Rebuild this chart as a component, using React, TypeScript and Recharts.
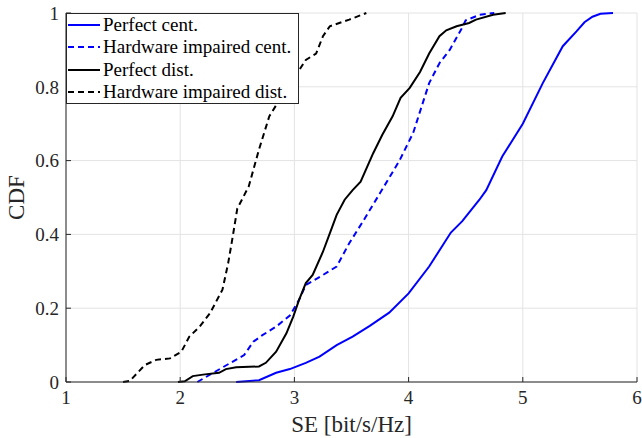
import React from 'react';
import { LineChart, Line, XAxis, YAxis, CartesianGrid } from 'recharts';

// SE values [bit/s/Hz] and CDF values
const perfectCentX = [2.49, 2.69, 2.84, 2.96, 3.10, 3.22, 3.37, 3.51, 3.66, 3.83, 4.00, 4.18, 4.37, 4.47, 4.62, 4.68, 4.82, 5.00, 5.175, 5.35, 5.47, 5.54, 5.61, 5.68, 5.79];
const perfectCentY = [0, 0.005, 0.025, 0.035, 0.052, 0.069, 0.10, 0.123, 0.152, 0.188, 0.24, 0.313, 0.405, 0.436, 0.494, 0.52, 0.611, 0.70, 0.81, 0.91, 0.95, 0.975, 0.99, 0.998, 1.0];

const hwCentX = [2.15, 2.29, 2.43, 2.56, 2.64, 2.72, 2.84, 2.96, 3.04, 3.10, 3.25, 3.37, 3.48, 3.60, 3.75, 3.92, 4.04, 4.18, 4.27, 4.36, 4.46, 4.50, 4.62, 4.75];
const hwCentY = [0, 0.025, 0.05, 0.073, 0.109, 0.127, 0.15, 0.18, 0.222, 0.263, 0.29, 0.313, 0.376, 0.435, 0.512, 0.60, 0.675, 0.81, 0.864, 0.90, 0.955, 0.98, 0.995, 1.0];

const perfectDistX = [1.98, 2.04, 2.11, 2.20, 2.34, 2.40, 2.49, 2.69, 2.75, 2.84, 2.93, 2.99, 3.04, 3.10, 3.16, 3.25, 3.31, 3.37, 3.44, 3.51, 3.58, 3.69, 3.77, 3.86, 3.93, 4.01, 4.10, 4.18, 4.27, 4.33, 4.42, 4.53, 4.59, 4.74, 4.85];
const perfectDistY = [0, 0.002, 0.016, 0.02, 0.025, 0.035, 0.04, 0.042, 0.052, 0.082, 0.132, 0.177, 0.222, 0.268, 0.29, 0.353, 0.403, 0.453, 0.494, 0.52, 0.543, 0.62, 0.67, 0.72, 0.77, 0.797, 0.84, 0.89, 0.937, 0.953, 0.964, 0.973, 0.982, 0.995, 1.0];

const hwDistX = [1.50, 1.56, 1.69, 1.79, 1.91, 2.01, 2.08, 2.17, 2.26, 2.37, 2.42, 2.46, 2.50, 2.55, 2.60, 2.69, 2.78, 2.87, 2.99, 3.10, 3.19, 3.25, 3.31, 3.48, 3.63];
const hwDistY = [0, 0.003, 0.046, 0.06, 0.064, 0.082, 0.123, 0.15, 0.186, 0.25, 0.322, 0.394, 0.47, 0.50, 0.53, 0.63, 0.72, 0.765, 0.82, 0.873, 0.89, 0.937, 0.964, 0.982, 1.0];

const xTicks = [1, 2, 3, 4, 5, 6];
const yTicks = [0, 0.2, 0.4, 0.6, 0.8, 1];

const seriesNames = ['Perfect cent.', 'Hardware impaired cent.', 'Perfect dist.', 'Hardware impaired dist.'];
const seriesColors = ['#0000ff', '#0000ff', '#000000', '#000000'];
const seriesDashed = [false, true, false, true];

const toPoints = (xs: number[], ys: number[]) => xs.map((x, i) => ({ x, y: ys[i] }));
const seriesData = [
  toPoints(perfectCentX, perfectCentY),
  toPoints(hwCentX, hwCentY),
  toPoints(perfectDistX, perfectDistY),
  toPoints(hwDistX, hwDistY),
];

const FONT = '"Liberation Serif", "Times New Roman", serif';
const TEXT = '#262626';
const AXIS = '#262626';

const LegendBox = () => (
  <div
    style={{
      position: 'absolute',
      left: 66,
      top: 13,
      width: 233,
      height: 91,
      border: `1px solid ${AXIS}`,
      background: '#fff',
      fontFamily: FONT,
      fontSize: 19,
      color: '#000',
      boxSizing: 'border-box',
      paddingTop: 0,
    }}
  >
    {seriesNames.map((name, i) => (
      <div key={name} style={{ height: 22.3, display: 'flex', alignItems: 'center', whiteSpace: 'nowrap' }}>
        <svg width={36} height={10} style={{ flex: '0 0 auto' }}>
          <line
            x1={1}
            y1={5}
            x2={33}
            y2={5}
            stroke={seriesColors[i]}
            strokeWidth={2}
            strokeDasharray={seriesDashed[i] ? '6 4' : undefined}
          />
        </svg>
        <span>{name}</span>
      </div>
    ))}
  </div>
);

const fmt = (v: number) => (v === 0 ? '0' : v === 1 ? '1' : String(v));

export default function App() {
  return (
    <div style={{ position: 'absolute', left: 0, top: 0, width: 642, height: 438, background: '#fff' }}>
      <LineChart width={642} height={438} margin={{ top: 13, right: 5, left: 0, bottom: 0 }}>
        <CartesianGrid stroke="#e3e3e3" strokeWidth={1} />
        <XAxis
          dataKey="x"
          type="number"
          domain={[1, 6]}
          ticks={xTicks}
          allowDataOverflow
          height={56}
          tickSize={-5}
          tickMargin={14}
          stroke={AXIS}
          tick={{ fill: TEXT, fontFamily: FONT, fontSize: 19 }}
          axisLine={{ stroke: AXIS }}
          tickLine={{ stroke: AXIS }}
          label={{ value: 'SE [bit/s/Hz]', position: 'insideBottom', offset: 6, fill: TEXT, fontFamily: FONT, fontSize: 23 }}
        />
        <XAxis
          xAxisId="top"
          orientation="top"
          dataKey="x"
          type="number"
          domain={[1, 6]}
          ticks={xTicks}
          height={0}
          tickSize={-5}
          tickFormatter={() => ''}
          stroke={AXIS}
        />
        <YAxis
          type="number"
          domain={[0, 1]}
          ticks={yTicks}
          width={66}
          tickSize={-5}
          tickMargin={12}
          tickFormatter={fmt}
          stroke={AXIS}
          tick={{ fill: TEXT, fontFamily: FONT, fontSize: 19 }}
          label={{ value: 'CDF', angle: -90, position: 'insideLeft', offset: 16, fill: TEXT, fontFamily: FONT, fontSize: 23, style: { textAnchor: 'middle' } }}
        />
        <YAxis
          yAxisId="right"
          orientation="right"
          type="number"
          domain={[0, 1]}
          ticks={yTicks}
          width={0}
          tickSize={-5}
          tickFormatter={() => ''}
          stroke={AXIS}
        />
        {seriesData.map((d, i) => (
          <Line
            key={seriesNames[i]}
            data={d}
            dataKey="y"
            name={seriesNames[i]}
            type="linear"
            stroke={seriesColors[i]}
            strokeWidth={2}
            strokeDasharray={seriesDashed[i] ? '6 4' : undefined}
            dot={false}
            activeDot={false}
            isAnimationActive={false}
          />
        ))}
      </LineChart>
      <LegendBox />
    </div>
  );
}
